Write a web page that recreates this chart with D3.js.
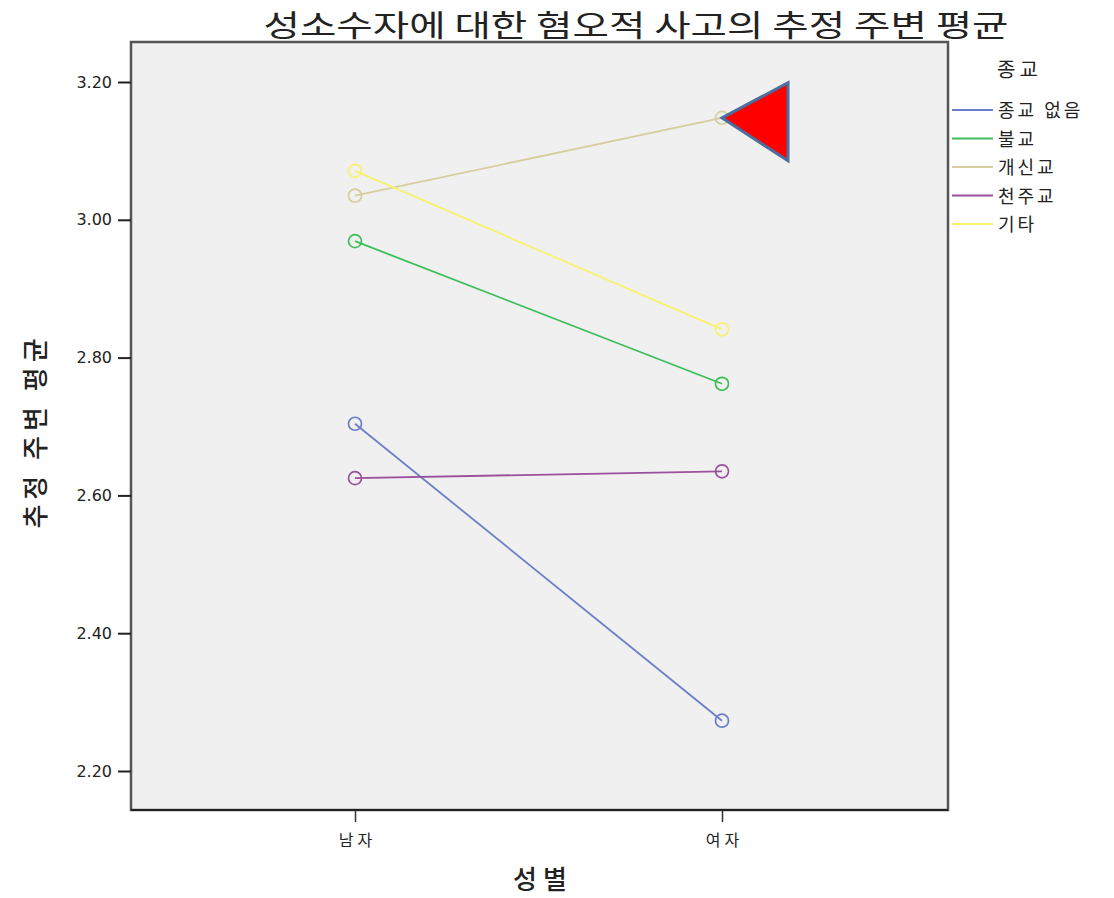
<!DOCTYPE html>
<html><head><meta charset="utf-8">
<script src="https://cdn.jsdelivr.net/npm/d3@7"></script>
<style>body{margin:0;background:#fff;} text{font-family:"Noto Sans CJK KR","Noto Sans",sans-serif;} .num{font-family:"DejaVu Sans",sans-serif;}</style>
</head><body><svg id="c" width="1114" height="898"></svg>
<script>
const categories = ["남자", "여자"];
const seriesNames = ["종교 없음", "불교", "개신교", "천주교", "기타"];
const seriesColors = ["#6b7fc8", "#3dbe5a", "#d6ce9c", "#9a509c", "#f7f36e"];
const noReligion = [2.704, 2.273];
const buddhism = [2.969, 2.762];
const protestant = [3.035, 3.148];
const catholic = [2.625, 2.635];
const other = [3.071, 2.841];
const yTicks = [2.20, 2.40, 2.60, 2.80, 3.00, 3.20];
const seriesValues = [noReligion, buddhism, protestant, catholic, other];

const svg = d3.select("#c");
const L = 131, R = 948, T = 42, B = 810;
const y = d3.scaleLinear().domain([2.2, 3.2]).range([771, 82]);
const x = d3.scalePoint().domain(categories).range([355, 722]);

svg.append("rect").attr("x", L).attr("y", T).attr("width", R - L).attr("height", B - T)
  .attr("fill", "#f0f0f0").attr("stroke", "#555").attr("stroke-width", 2.5);

// y axis
const ya = svg.append("g").attr("transform", `translate(${L},0)`)
  .call(d3.axisLeft(y).tickValues(yTicks).tickFormat(d3.format(".2f")).tickSize(13).tickSizeOuter(0));
ya.select(".domain").remove();
ya.selectAll("line").attr("stroke", "#222").attr("stroke-width", 2);
ya.selectAll("text").attr("class", "num").attr("font-size", 16).attr("fill", "#222").attr("dx", -3);

// x axis
const xa = svg.append("g").attr("transform", `translate(0,${B})`)
  .call(d3.axisBottom(x).tickSize(12).tickSizeOuter(0));
xa.select(".domain").attr("d", `M${L},0H${R}`).attr("stroke", "#222").attr("stroke-width", 2);
xa.selectAll("line").attr("stroke", "#333").attr("stroke-width", 1.5);
xa.selectAll("text").attr("font-size", 16).attr("fill", "#222").attr("dy", "1.3em")
  .attr("letter-spacing", 4).attr("dx", 2);

// lines & markers
const line = d3.line().x((d, i) => x(categories[i])).y(d => y(d));
seriesValues.forEach((vals, s) => {
  svg.append("path").datum(vals).attr("d", line).attr("fill", "none")
    .attr("stroke", seriesColors[s]).attr("stroke-width", 1.8);
  svg.selectAll(null).data(vals).enter().append("circle")
    .attr("cx", (d, i) => x(categories[i])).attr("cy", d => y(d)).attr("r", 6.5)
    .attr("fill", "none").attr("stroke", seriesColors[s]).attr("stroke-width", 1.7);
});

// red triangle annotation pointing at 개신교 여자
const tx = x("여자"), ty = y(protestant[1]);
svg.append("path").attr("d", `M${tx},${ty}L${tx + 66},${ty - 35}L${tx + 66},${ty + 43}Z`)
  .attr("fill", "#ff0000").attr("stroke", "#4a6f9e").attr("stroke-width", 3).attr("stroke-linejoin", "miter");

// title
svg.append("text").attr("x", 636).attr("y", 36).attr("text-anchor", "middle")
  .attr("font-size", 30).attr("fill", "#222").attr("textLength", 745).attr("lengthAdjust", "spacingAndGlyphs")
  .text("성소수자에 대한 혐오적 사고의 추정 주변 평균");

// axis titles
svg.append("text").attr("transform", "translate(45,431) rotate(-90)").attr("text-anchor", "middle")
  .attr("font-size", 26).attr("fill", "#222").attr("font-weight", 500)
  .attr("letter-spacing", 5).text("추정 주변 평균");
svg.append("text").attr("x", 543).attr("y", 889).attr("text-anchor", "middle")
  .attr("font-size", 26).attr("fill", "#222").attr("font-weight", 500)
  .attr("letter-spacing", 6).text("성별");

// legend
svg.append("text").attr("x", 997).attr("y", 77).attr("font-size", 20).attr("fill", "#222")
  .attr("letter-spacing", 4).text("종교");
const lg = svg.selectAll(".lg").data(seriesNames).enter().append("g")
  .attr("transform", (d, i) => `translate(952,${110 + i * 28.5})`);
lg.append("line").attr("x1", 0).attr("x2", 41).attr("stroke", (d, i) => seriesColors[i]).attr("stroke-width", 2);
lg.append("text").attr("x", 46).attr("y", 7).attr("font-size", 18).attr("fill", "#222")
  .attr("letter-spacing", 3).text(d => d);
</script></body></html>
